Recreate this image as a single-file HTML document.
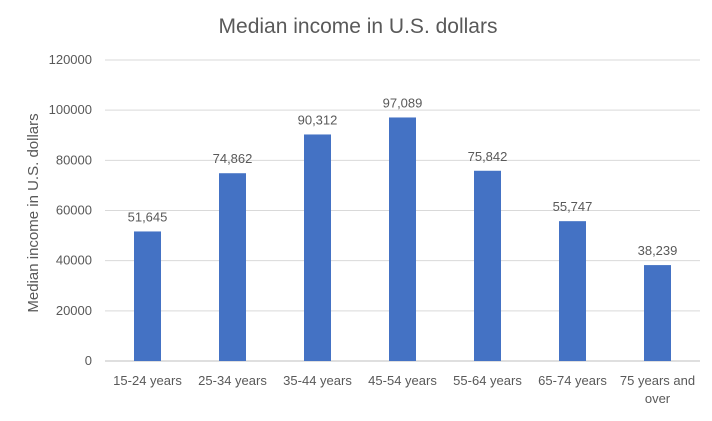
<!DOCTYPE html>
<html><head><meta charset="utf-8"><style>
body{margin:0;background:#fff;}
svg text{font-family:"Liberation Sans",sans-serif;fill:#595959;}
</style></head><body>
<svg width="712" height="416" viewBox="0 0 712 416" xmlns="http://www.w3.org/2000/svg">
<text x="358" y="33" text-anchor="middle" font-size="21">Median income in U.S. dollars</text>
<text transform="translate(38,213) rotate(-90)" text-anchor="middle" font-size="15">Median income in U.S. dollars</text>
<g id="grid"></g><g id="bars"></g><g id="labels"></g>
</svg>
<script>
const categories=["15-24 years","25-34 years","35-44 years","45-54 years","55-64 years","65-74 years","75 years and|over"];
const values=[51645,74862,90312,97089,75842,55747,38239];
const valueLabels=["51,645","74,862","90,312","97,089","75,842","55,747","38,239"];
const ticks=[0,20000,40000,60000,80000,100000,120000];
const ns="http://www.w3.org/2000/svg";
const x0=105,x1=700,y0=361,y1=60,maxV=120000;
const y=v=>y0-(v/maxV)*(y0-y1);
const band=(x1-x0)/categories.length;
const xc=i=>x0+band*(i+0.5);
function mk(t,a,p){const e=document.createElementNS(ns,t);for(const k in a)e.setAttribute(k,a[k]);p.appendChild(e);return e;}
const g=document.getElementById('grid'),b=document.getElementById('bars'),l=document.getElementById('labels');
ticks.forEach(t=>{
 const ln=mk('line',{x1:x0,x2:x1,y1:y(t),y2:y(t),stroke:t===0?'#bfbfbf':'#d9d9d9','stroke-width':1},g);
 
 
 const tx=mk('text',{x:92,y:y(t)+4,'text-anchor':'end','font-size':13},g);
 tx.textContent=t;
 
 
});
values.forEach((v,i)=>{
 const w=27;
 const r=mk('rect',{x:xc(i)-w/2,y:y(v),width:w,height:y0-y(v),fill:'#4472c4'},b);
 
 
 const vt=mk('text',{x:xc(i),y:y(v)-10,'text-anchor':'middle','font-size':13},l);
 vt.textContent=valueLabels[i];
 
 
 categories[i].split('|').forEach((s,j)=>{
  const ct=mk('text',{x:xc(i),y:385+j*18,'text-anchor':'middle','font-size':13},l);
  ct.textContent=s;
  
  
 });
});
</script>
</body></html>
